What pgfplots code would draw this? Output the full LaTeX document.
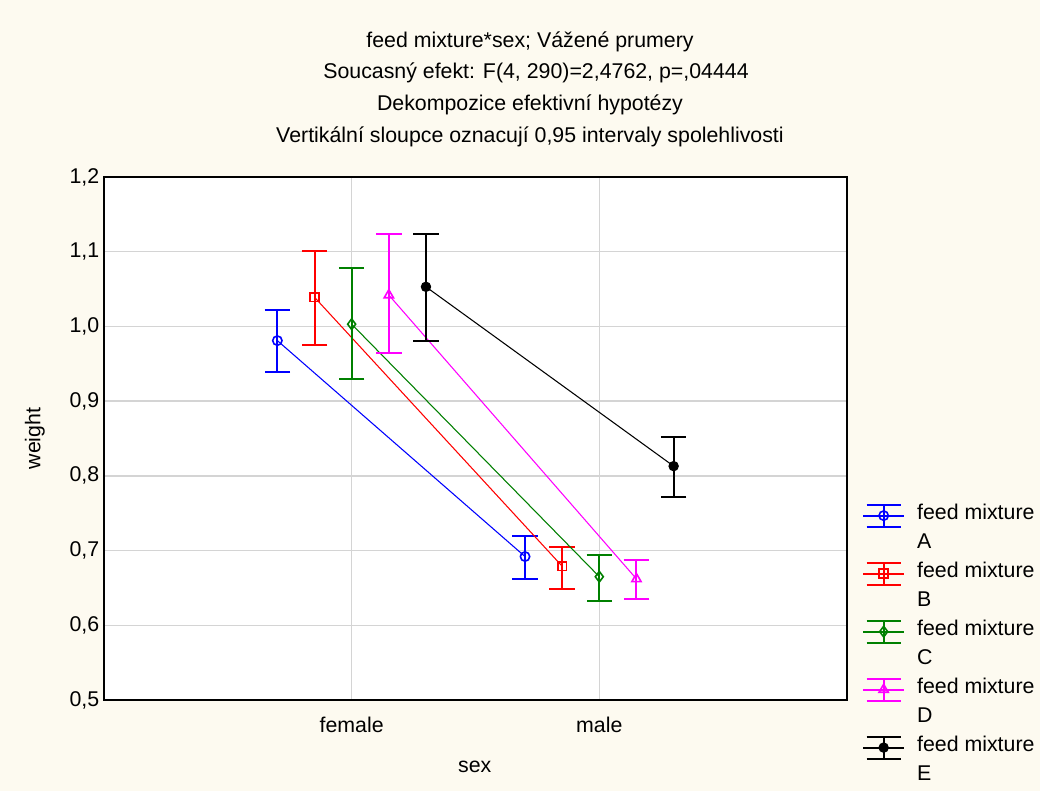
\documentclass[border=0pt]{standalone}
\usepackage{pgfplots}
\pgfplotsset{compat=1.18}
\usepackage{fontspec}
\setmainfont{Liberation Sans}
\definecolor{cream}{RGB}{253,250,240}
\definecolor{gridgray}{RGB}{212,212,212}
\definecolor{dgreen}{RGB}{0,128,0}
\definecolor{mag}{RGB}{255,0,255}
\newcommand{\fs}{\fontsize{16}{19}\selectfont}
\pgfplotsset{
  ebar/.style={
    error bars/y dir=both,
    error bars/y explicit,
    error bars/error bar style={line width=1.5pt},
    error bars/error mark options={line width=1.5pt, mark size=9.6pt, rotate=90},
  },
  ebarlegend/.style={
    legend image code/.code={
      \draw[##1, line width=1.5pt, mark=none] (0pt,0pt) -- (30.75pt,0pt);
      \draw[##1, line width=1.5pt, mark=none] (15.4pt,-8.25pt) -- (15.4pt,8.25pt);
      \draw[##1, line width=1.5pt, mark=none] (2.6pt,-8.25pt) -- (28.2pt,-8.25pt) (2.6pt,8.25pt) -- (28.2pt,8.25pt);
      \draw[##1, mark repeat=2, mark phase=2] plot coordinates {(0pt,0pt) (15.4pt,0pt) (30.75pt,0pt)};
    }
  },
}
\begin{document}
\begin{tikzpicture}
\useasboundingbox (0,0) rectangle (780pt,593.25pt);
\fill[cream] (0,0) rectangle (780pt,593.25pt);
\node[font=\fs] at (397.5pt,562pt) {feed mixture*sex; Vážené prumery};
\node[font=\fs] at (402pt,538.3pt) {Soucasný efekt: F(4, 290)=2,4762, p=,04444};
\node[font=\fs] at (397.5pt,514.5pt) {Dekompozice efektivní hypotézy};
\node[font=\fs] at (397.5pt,490.5pt) {Vertikální sloupce oznacují 0,95 intervaly spolehlivosti};
\begin{axis}[
  at={(78pt,68.25pt)}, anchor=south west,
  scale only axis, width=557.25pt, height=392.25pt,
  xmin=-1, xmax=2, ymin=0.5, ymax=1.2,
  xtick={0,1}, xticklabels={female,male},
  ytick={0.5,0.6,0.7,0.8,0.9,1.0,1.1,1.2},
  grid=major, grid style={gridgray, line width=1.1pt},
  major tick length=0pt,
  axis line style={black, line width=0.9pt},
  axis background/.style={fill=white},
  tick label style={font=\fs},
  label style={font=\fs},
  xticklabel style={yshift=-9pt},
  yticklabel style={/pgf/number format/.cd, fixed, fixed zerofill, precision=1, use comma, assume math mode=true},
  xlabel=sex, ylabel=weight,
  xlabel style={at={(axis description cs:0.499,-0.128)}, anchor=center},
  ylabel style={at={(axis description cs:-0.093,0.5)}, anchor=center},
  legend style={at={(1.02,0.376)}, anchor=north west, draw=none, fill=none, font=\fs,
    inner sep=0pt, row sep=3.75pt,
    nodes={inner sep=0pt, text height=12pt, text depth=6pt},
    /tikz/every odd column/.append style={column sep=9pt}},
  legend cell align=left,
]
\addplot[blue, line width=0.8pt, mark=o, mark size=3.5pt, mark options={solid, fill=white, line width=1.2pt}, ebarlegend, ebar]
  table[x=x, y=y, y error plus=ep, y error minus=em] {
x y ep em
-0.3 0.981 0.041 0.042
0.7 0.692 0.028 0.030
};
\addlegendentry{feed mixture}
\addlegendimage{empty legend}\addlegendentry{A}
\addplot[red, line width=0.8pt, mark=square, mark size=3.3pt, mark options={solid, fill=white, line width=1.2pt}, ebarlegend, ebar]
  table[x=x, y=y, y error plus=ep, y error minus=em] {
x y ep em
-0.15 1.039 0.062 0.064
0.85 0.679 0.026 0.031
};
\addlegendentry{feed mixture}
\addlegendimage{empty legend}\addlegendentry{B}
\addplot[dgreen, line width=0.8pt, mark=diamond, mark size=4pt, mark options={solid, fill=white, line width=1.2pt}, ebarlegend, ebar]
  table[x=x, y=y, y error plus=ep, y error minus=em] {
x y ep em
0.0 1.003 0.075 0.074
1.0 0.665 0.029 0.032
};
\addlegendentry{feed mixture}
\addlegendimage{empty legend}\addlegendentry{C}
\addplot[mag, line width=0.8pt, mark=triangle, mark size=4pt, mark options={solid, fill=white, line width=1.2pt}, ebarlegend, ebar]
  table[x=x, y=y, y error plus=ep, y error minus=em] {
x y ep em
0.15 1.042 0.082 0.077
1.15 0.662 0.025 0.027
};
\addlegendentry{feed mixture}
\addlegendimage{empty legend}\addlegendentry{D}
\addplot[black, line width=0.8pt, mark=*, mark size=3.5pt, mark options={solid, fill=black}, ebarlegend, ebar]
  table[x=x, y=y, y error plus=ep, y error minus=em] {
x y ep em
0.3 1.053 0.071 0.072
1.3 0.813 0.039 0.041
};
\addlegendentry{feed mixture}
\addlegendimage{empty legend}\addlegendentry{E}
\end{axis}
\end{tikzpicture}
\end{document}
